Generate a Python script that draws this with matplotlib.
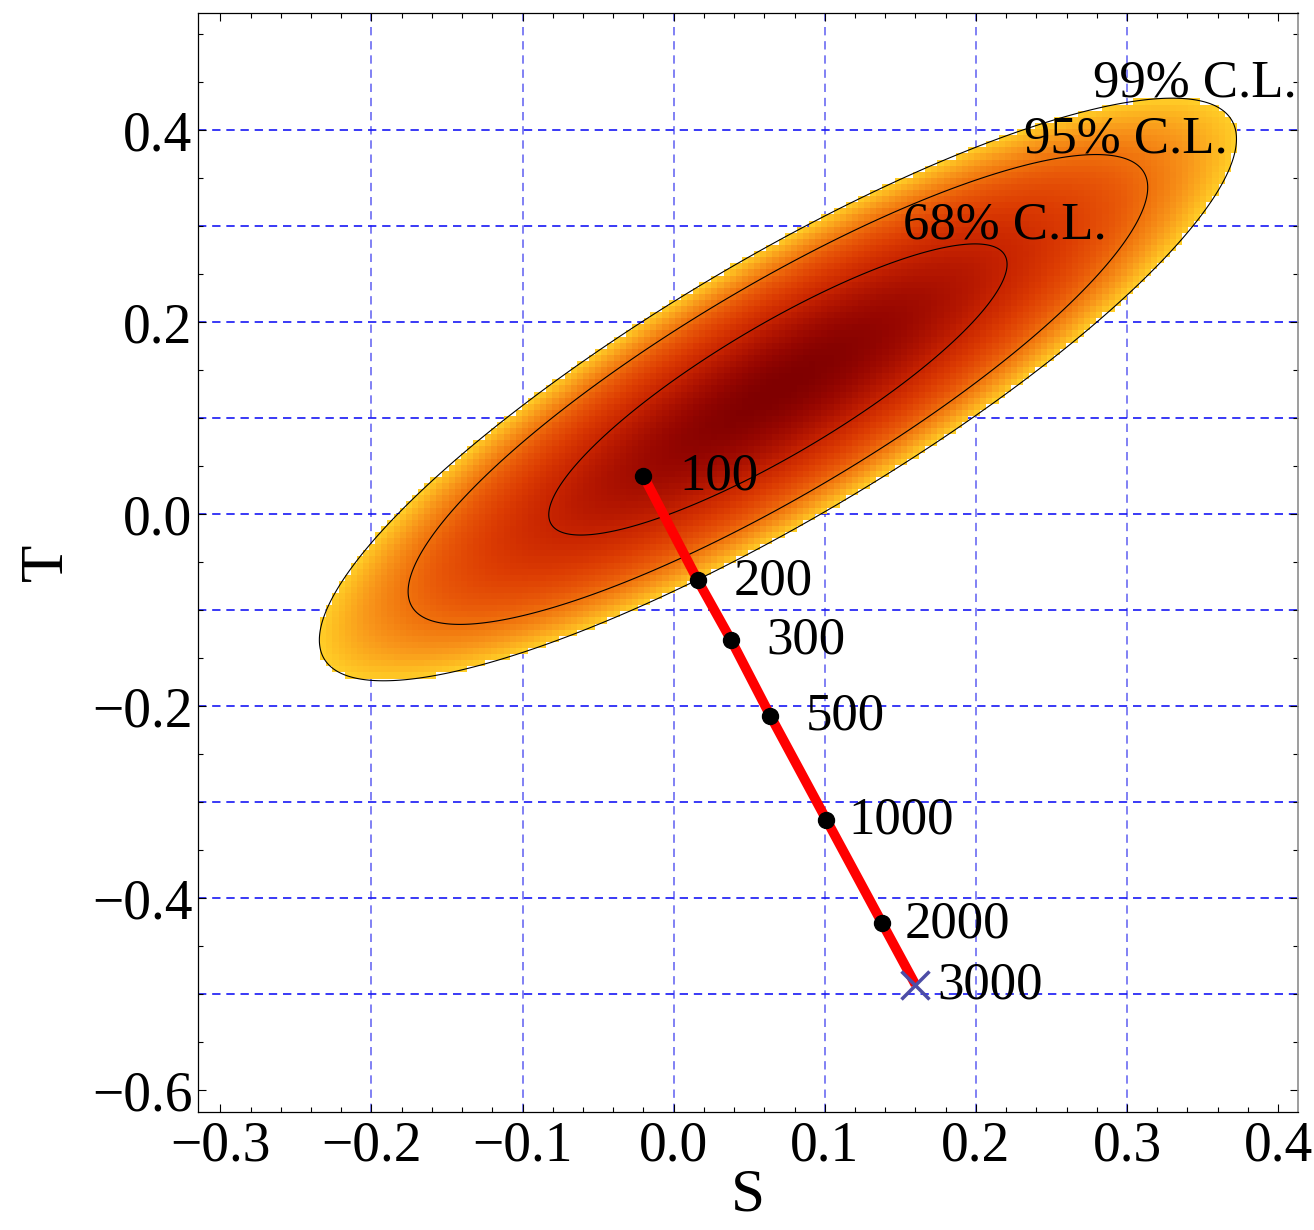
import numpy as np
import matplotlib
matplotlib.use("Agg")
import matplotlib.pyplot as plt
from matplotlib.colors import LinearSegmentedColormap
from matplotlib.ticker import MultipleLocator, FuncFormatter

plt.rcParams['font.family'] = ['Liberation Serif', 'DejaVu Serif']

# Fit result in the (S, T) plane
s0, t0 = 0.069, 0.130
sig_s, sig_t, rho = 0.100, 0.100, 0.86
cl_chi2 = [2.30, 5.99, 9.21]
cl_labels = ['68% C.L.', '95% C.L.', '99% C.L.']
cl_label_s = [0.219, 0.299, 0.345]
cl_label_t = [0.287, 0.377, 0.435]

# Model prediction vs. mass
masses = [100, 200, 300, 500, 1000, 2000, 3000]
s_vals = [-0.020, 0.016, 0.038, 0.064, 0.101, 0.138, 0.160]
t_vals = [0.040, -0.069, -0.131, -0.210, -0.318, -0.426, -0.490]

xlim = (-0.3148, 0.4132)
ylim = (-0.6227, 0.5222)


def chi2(s, t):
    ds = (s - s0) / sig_s
    dt = (t - t0) / sig_t
    return (ds**2 - 2 * rho * ds * dt + dt**2) / (1 - rho**2)


def fmt(v, pos):
    if abs(v) < 1e-9:
        v = 0.0
    return ('%.1f' % v).replace('-', '\u2212')


cmap = LinearSegmentedColormap.from_list('st', [
    (0.00, '#800000'),
    (0.06, '#960600'),
    (0.15, '#b01400'),
    (0.25, '#c82400'),
    (0.40, '#dc3c02'),
    (0.55, '#e85808'),
    (0.65, '#ef700c'),
    (0.80, '#f8961a'),
    (0.92, '#fdb820'),
    (1.00, '#ffcf28'),
])

fig = plt.figure(figsize=(13.14, 12.30), dpi=100)
ax = fig.add_axes([198 / 1314, 1 - 1112 / 1230, 1100 / 1314, 1099 / 1230])

# coarse density raster, cut at the 99% contour
nx, ny = 180, 180
xe = np.linspace(xlim[0], xlim[1], nx + 1)
ye = np.linspace(ylim[0], ylim[1], ny + 1)
X, Y = np.meshgrid(0.5 * (xe[1:] + xe[:-1]), 0.5 * (ye[1:] + ye[:-1]))
Z = chi2(X, Y)
Zm = np.ma.masked_where(Z > cl_chi2[-1], Z)
ax.pcolormesh(xe, ye, Zm, cmap=cmap, vmin=0, vmax=cl_chi2[-1],
              shading='flat', antialiased=False, zorder=1)

# smooth contour lines
xf = np.linspace(xlim[0], xlim[1], 800)
yf = np.linspace(ylim[0], ylim[1], 800)
XF, YF = np.meshgrid(xf, yf)
ax.contour(XF, YF, chi2(XF, YF), levels=cl_chi2, colors='black',
           linewidths=0.8, zorder=2)

for lab, s, t in zip(cl_labels, cl_label_s, cl_label_t):
    ax.text(s, t, lab, fontsize=38, ha='center', va='baseline', zorder=5)

# dashed grid behind the density
for gx in np.arange(-0.2, 0.31, 0.1):
    ax.axvline(gx, color='#6b6bf2', lw=1.2, ls=(0, (5, 3.5)), zorder=0.5)
for gy in np.arange(-0.5, 0.41, 0.1):
    ax.axhline(gy, color='#1818f5', lw=1.2, ls=(0, (5, 3.5)), zorder=0.5)

ax.plot(s_vals, t_vals, color='red', lw=7, zorder=3, solid_capstyle='butt')
ax.plot(s_vals[:-1], t_vals[:-1], 'o', color='black', ms=11.5, zorder=4)
ax.plot(s_vals[-1], t_vals[-1], marker='x', color='#4d4da6', ms=20, mew=2.5,
        zorder=4)
for m, s, t in zip(masses, s_vals, t_vals):
    ax.annotate(str(m), (s, t), xytext=(54, -10), textcoords='offset points',
                ha='center', va='baseline', fontsize=38, zorder=5)

ax.set_xlim(xlim)
ax.set_ylim(ylim)
ax.xaxis.set_major_locator(MultipleLocator(0.1))
ax.xaxis.set_minor_locator(MultipleLocator(0.02))
ax.yaxis.set_major_locator(MultipleLocator(0.2))
ax.yaxis.set_minor_locator(MultipleLocator(0.05))
ax.xaxis.set_major_formatter(FuncFormatter(fmt))
ax.yaxis.set_major_formatter(FuncFormatter(fmt))
ax.tick_params(which='both', direction='in', top=True, right=True,
               labelsize=40, width=0.8)
ax.tick_params(which='major', length=6)
ax.tick_params(which='minor', length=3.5)
ax.tick_params(axis='x', pad=6)
ax.tick_params(axis='y', pad=4)
for side in ['left', 'bottom', 'top']:
    ax.spines[side].set_linewidth(0.9)
ax.spines['right'].set_color('#8c8c8c')
ax.spines['right'].set_linewidth(1.2)

ax.set_xlabel('S', fontsize=44, labelpad=-3)
ax.set_ylabel('T', fontsize=44, labelpad=12)

fig.savefig('out.png', dpi=100)
